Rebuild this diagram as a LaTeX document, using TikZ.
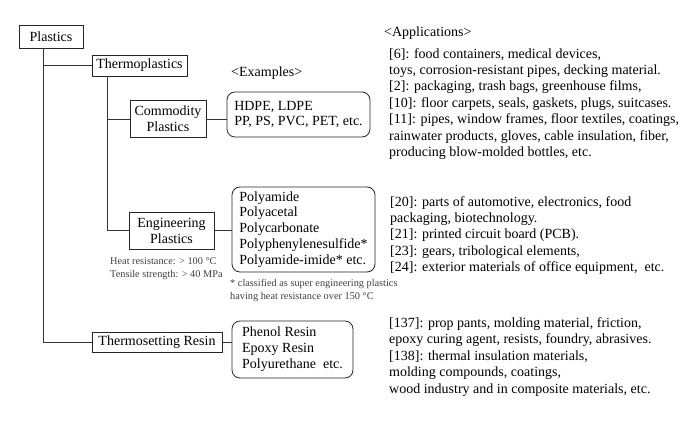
\documentclass[tikz,border=0pt]{standalone}
\usepackage{fontspec}
\setmainfont{Liberation Serif}
\usetikzlibrary{positioning}
\newcommand{\mainsize}{\fontsize{14}{16.4}\selectfont}
\newcommand{\boxsize}{\fontsize{14}{15.9}\selectfont}
\newcommand{\notesize}{\fontsize{10.3}{12.8}\selectfont}

\begin{document}
\begin{tikzpicture}[
    x=1pt, y=-1pt,
    catbox/.style={draw=black!85, line width=0.9pt, inner sep=0pt, align=center, font=\boxsize},
    exbox/.style={draw=black!85, line width=0.8pt, rounded corners=8pt, inner sep=0pt, align=left, font=\boxsize},
    lbl/.style={inner sep=0pt, align=left, font=\mainsize},
    note/.style={inner sep=0pt, align=left, font=\notesize, text=black!75},
    link/.style={draw=black!80, line width=0.9pt},
    ]
    \useasboundingbox (0,0) rectangle (691,422);
    % categories
    \node[catbox, minimum width=64pt, minimum height=23pt] (plastics) at (51,36.5) {Plastics};
    \node[catbox, minimum width=95pt, minimum height=21pt] (thermo) at (139.5,65.5) {Thermoplastics};
    \node[catbox, minimum width=76pt, minimum height=37pt] (comm) at (168,119) {Commodity\\Plastics};
    \node[catbox, minimum width=85pt, minimum height=37pt] (engg) at (171.5,230.5) {Engineering\\Plastics};
    \node[catbox, minimum width=130pt, minimum height=20pt] (thermoset) at (157,342) {Thermosetting Resin};
    % examples
    \node[lbl, anchor=west] (exhead) at (231,73) {<Examples>};
    \node[exbox, minimum width=143pt, minimum height=45pt] (exA) at (298.5,114.5)
      {HDPE, LDPE\\PP, PS, PVC, PET, etc.};
    \node[exbox, minimum width=143pt, minimum height=85pt] (exB) at (303.5,229.5)
      {Polyamide\\Polyacetal\\Polycarbonate\\Polyphenylenesulfide*\\Polyamide-imide* etc.};
    \node[exbox, minimum width=121pt, minimum height=57pt] (exC) at (292.5,349.5)
      {Phenol Resin\\Epoxy Resin\\Polyurethane\ \ etc.};
    % notes
    \node[note, anchor=north west] (engnote) at (110,257.5)
      {Heat resistance: > 100 °C\\Tensile strength: > 40 MPa};
    \node[note, anchor=north west] (supnote) at (230,279)
      {* classified as super engineering plastics\\having heat resistance over 150 °C};
    % applications
    \node[lbl, anchor=west] (apphead) at (384,33) {<Applications>};
    \node[lbl, anchor=north west] (appA) at (389,48)
      {{}[6]: food containers, medical devices,\\
       toys, corrosion-resistant pipes, decking material.\\
       {}[2]: packaging, trash bags, greenhouse films,\\
       {}[10]: floor carpets, seals, gaskets, plugs, suitcases.\\
       {}[11]: pipes, window frames, floor textiles, coatings,\\
       rainwater products, gloves, cable insulation, fiber,\\
       producing blow-molded bottles, etc.};
    \node[lbl, anchor=north west] (appB) at (390,196)
      {{}[20]: parts of automotive, electronics, food\\
       packaging, biotechnology.\\
       {}[21]: printed circuit board (PCB).\\
       {}[23]: gears, tribological elements,\\
       {}[24]: exterior materials of office equipment,\ \ etc.};
    \node[lbl, anchor=north west] (appC) at (389,317.5)
      {{}[137]: prop pants, molding material, friction,\\
       epoxy curing agent, resists, foundry, abrasives.\\
       {}[138]: thermal insulation materials,\\
       molding compounds, coatings,\\
       wood industry and in composite materials, etc.};
    % tree
    \coordinate (trunk) at ([xshift=-8pt]plastics.south);
    \draw[link] (trunk) |- (thermoset.west);
    \draw[link] (trunk |- thermo.west) -- (thermo.west);
    \coordinate (branch) at ([xshift=16pt]thermo.south west);
    \draw[link] (branch) |- (engg.west);
    \draw[link] (branch |- comm.west) -- (comm.west);
    \draw[link] (comm.east) -- (comm.east -| exA.west);
    \draw[link] (engg.east) -- (engg.east -| exB.west);
    \draw[link] (thermoset.east) -- (thermoset.east -| exC.west);
\end{tikzpicture}
\end{document}
